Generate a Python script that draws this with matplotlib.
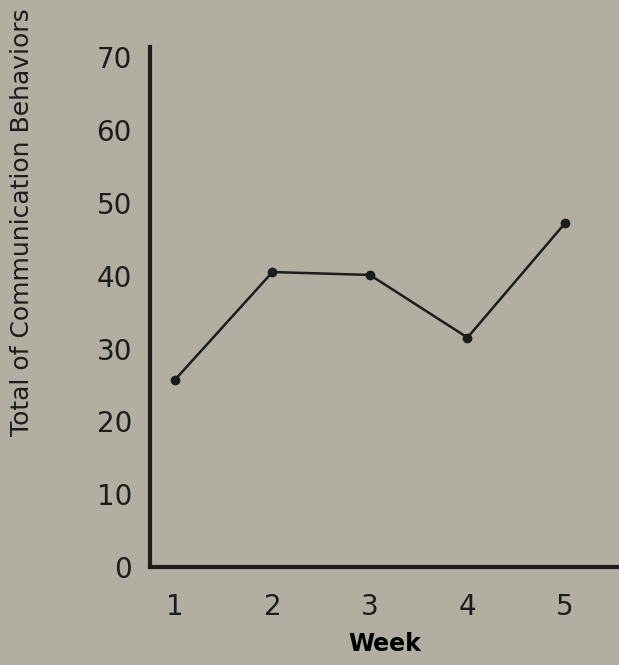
import matplotlib
matplotlib.use('Agg')
import matplotlib.pyplot as plt

# ── Data ────────────────────────────────────────────────
weeks = [1, 2, 3, 4, 5]
totals = [25.7, 40.5, 40.1, 31.5, 47.2]
y_ticks = [0, 10, 20, 30, 40, 50, 60, 70]

BG = '#b2afa2'
INK = '#1c1c1c'

plt.rcParams.update({
    'font.family': 'DejaVu Sans',
    'text.color': INK,
    'xtick.color': INK,
    'ytick.color': INK,
})

fig = plt.figure(figsize=(6.19, 6.65), dpi=100, facecolor=BG)
ax = fig.add_axes([0.2423, 0.1474, 0.7577, 0.7819])
ax.set_facecolor(BG)

ax.plot(weeks, totals, '-o', color=INK, linewidth=1.8, markersize=6,
        markerfacecolor=INK, markeredgecolor=INK)

ax.set_xlim(0.744, 5.554)
ax.set_ylim(0, 71.4)
ax.set_xticks(weeks)
ax.set_yticks(y_ticks)
ax.tick_params(axis='both', length=0, labelsize=20)
ax.tick_params(axis='y', pad=13)
ax.tick_params(axis='x', pad=19)

for s in ['top', 'right']:
    ax.spines[s].set_visible(False)
for s in ['left', 'bottom']:
    ax.spines[s].set_linewidth(3)
    ax.spines[s].set_color(INK)

ax.set_xlabel('Week', fontsize=17, fontweight='bold', labelpad=8)
fig.text(0.036, 0.666, 'Total of Communication Behaviors', rotation=90,
         ha='center', va='center', fontsize=18)

fig.savefig('out.png', dpi=100, facecolor=BG)
